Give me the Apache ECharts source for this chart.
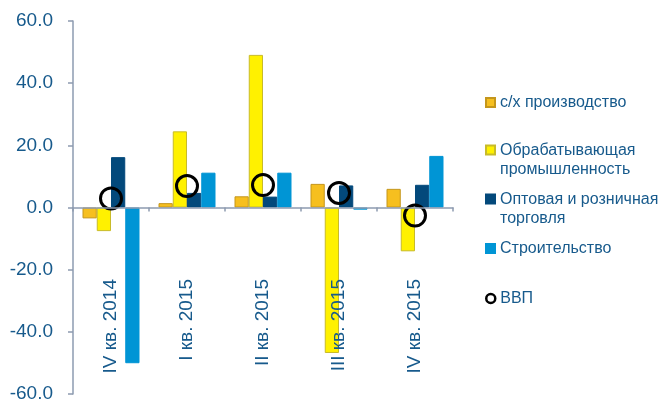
<!DOCTYPE html>
<html>
<head>
<meta charset="utf-8">
<script src="https://cdn.jsdelivr.net/npm/echarts@6/dist/echarts.min.js"></script>
<style>
  html, body { margin: 0; padding: 0; background: #fff; }
  #chart { width: 667px; height: 402px; }
</style>
</head>
<body>
<div id="chart"></div>
<script>
// Quarter labels
var categories = ['IV кв. 2014', 'I кв. 2015', 'II кв. 2015', 'III кв. 2015', 'IV кв. 2015'];

// Growth by sector, %
var agriculture   = [-3.5, 1.4, 3.6, 7.6, 6.0];
var manufacturing = [-7.6, 24.5, 49.1, -46.8, -14.1];
var trade         = [16.2, 4.7, 3.5, 7.1, 7.3];
var construction  = [-50.1, 11.2, 11.2, -0.7, 16.6];
var gdp           = [2.9, 6.9, 7.2, 4.7, -2.6];

// Value axis ticks
var yTicks = [-60, -40, -20, 0, 20, 40, 60];

var names = [
  'с/х производство',
  'Обрабатывающая\nпромышленность',
  'Оптовая и розничная\nторговля',
  'Строительство',
  'ВВП'
];

var textColor = '#175a8c';
var axisColor = '#8d9bb0';
var font = 'Liberation Sans, Arial, sans-serif';

// square icon sitting on the first text line of a two-line legend entry
var topSquare = 'path://M0,0h9v9h-9Z M0,29L0.001,29';

function legendFor(name, top, icon, h, extraStyle) {
  var item = { name: name, icon: icon };
  if (extraStyle) item.itemStyle = extraStyle;
  return {
    data: [item],
    orient: 'vertical',
    left: 485,
    top: top,
    padding: 0,
    itemWidth: 9,
    itemHeight: h,
    selectedMode: false,
    textStyle: { color: textColor, fontSize: 16, fontFamily: font, lineHeight: 19 }
  };
}

var chart = echarts.init(document.getElementById('chart'), null, { renderer: 'canvas' });

function barSeries(name, data, color, border) {
  return {
    name: name,
    type: 'bar',
    data: data,
    barGap: '0%',
    barCategoryGap: '25%',
    itemStyle: { color: color, borderColor: border, borderWidth: 1 }
  };
}

chart.setOption({
  animation: false,
  grid: { left: 73, right: 214, top: 21, bottom: 8, containLabel: false, outerBoundsMode: 'none' },
  legend: [
    legendFor(names[0], 93, 'rect', 9),
    legendFor(names[1], 141, topSquare, 29),
    legendFor(names[2], 190, topSquare, 29),
    legendFor(names[3], 239, 'rect', 9),
    legendFor(names[4], 289, 'circle', 9, { color: '#fff', borderColor: '#000', borderWidth: 2.5 })
  ],
  xAxis: {
    type: 'category',
    data: categories,
    z: 5,
    axisLine: { onZero: true, lineStyle: { color: axisColor, width: 1.5 } },
    axisTick: { show: true, length: 4, lineStyle: { color: axisColor, width: 1.5 } },
    axisLabel: {
      rotate: 90,
      margin: -115,
      color: textColor,
      fontSize: 19,
      fontFamily: font,
      interval: 0
    },
    splitLine: { show: false }
  },
  yAxis: {
    type: 'value',
    min: yTicks[0],
    max: yTicks[yTicks.length - 1],
    interval: 20,
    axisLine: { show: true, lineStyle: { color: axisColor, width: 1.5 } },
    axisTick: { show: true, length: 5, lineStyle: { color: axisColor, width: 1.5 } },
    axisLabel: {
      margin: 20,
      color: textColor,
      fontSize: 19,
      fontFamily: font,
      formatter: function (v) { return v.toFixed(1); }
    },
    splitLine: { show: false }
  },
  series: [
    barSeries(names[0], agriculture, '#f6bf1f', '#c4961c'),
    barSeries(names[1], manufacturing, '#fff100', '#c8bb2a'),
    barSeries(names[2], trade, '#03497b', '#03497b'),
    barSeries(names[3], construction, '#0095d5', '#0095d5'),
    {
      name: names[4],
      type: 'scatter',
      data: gdp,
      z: 4,
      symbol: 'circle',
      symbolSize: 21,
      itemStyle: { color: 'rgba(0,0,0,0)', borderColor: '#000', borderWidth: 3, opacity: 1 }
    }
  ]
});
</script>
</body>
</html>
